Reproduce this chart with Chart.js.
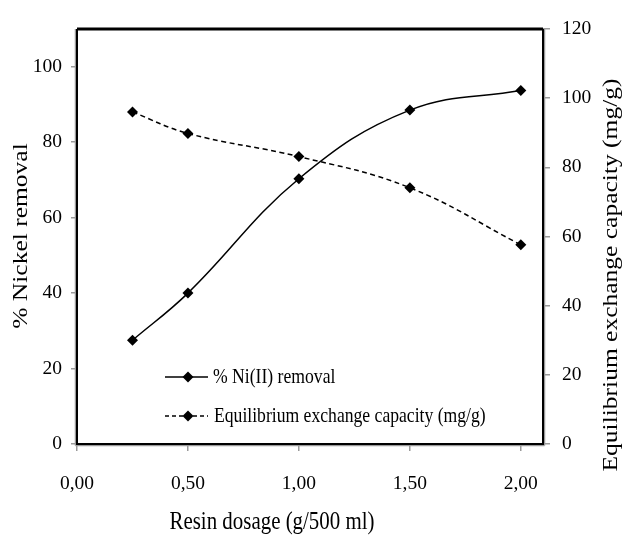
<!DOCTYPE html>
<html>
<head>
<meta charset="utf-8">
<script src="https://cdn.jsdelivr.net/npm/chart.js@4"></script>
<style>
html,body{margin:0;padding:0;background:#fff;}
#wrap{width:626px;height:535px;position:relative;}
</style>
</head>
<body>
<div id="wrap"><canvas id="c" width="626" height="535"></canvas></div>
<script>
// ---- data ----
const dosage = [0.25, 0.5, 1.0, 1.5, 2.0];
const niRemoval = [27.5, 40.0, 70.3, 88.5, 93.7];
const eqCapacity = [96.0, 89.8, 83.1, 74.1, 57.6];
const xTicks = [0, 0.5, 1.0, 1.5, 2.0];
const leftTicks = [0, 20, 40, 60, 80, 100];
const rightTicks = [0, 20, 40, 60, 80, 100, 120];
const labelNi = '% Ni(II) removal';
const labelEq = 'Equilibrium exchange capacity (mg/g)';
const titleX = 'Resin dosage (g/500 ml)';
const titleLeft = '% Nickel removal';
const titleRight = 'Equilibrium exchange capacity (mg/g)';

const FONT = '"Liberation Serif", "Times New Roman", serif';
const SX = 0.82;

function sText(ctx, txt, x, y, size, rot, align) {
  ctx.save();
  ctx.translate(x, y);
  ctx.scale(SX, 1);
  ctx.rotate(rot);
  ctx.font = size + 'px ' + FONT;
  ctx.fillStyle = '#000';
  ctx.textAlign = align;
  ctx.textBaseline = 'middle';
  ctx.fillText(txt, 0, 0);
  ctx.restore();
}

function diamond(ctx, x, y, r) {
  ctx.beginPath();
  ctx.moveTo(x, y - r);
  ctx.lineTo(x + r, y);
  ctx.lineTo(x, y + r);
  ctx.lineTo(x - r, y);
  ctx.closePath();
  ctx.fill();
}

const decor = {
  id: 'decor',
  afterDraw(chart) {
    const ctx = chart.ctx;
    const a = chart.chartArea;
    ctx.save();
    // gray axis lines
    ctx.strokeStyle = '#9a9a9a';
    ctx.lineWidth = 1.5;
    ctx.beginPath();
    ctx.moveTo(a.left - 1.5, a.top); ctx.lineTo(a.left - 1.5, a.bottom + 1.5);
    ctx.moveTo(a.left - 1.5, a.bottom + 1.5); ctx.lineTo(a.right + 1.5, a.bottom + 1.5);
    ctx.moveTo(a.right + 1.5, a.top); ctx.lineTo(a.right + 1.5, a.bottom + 1.5);
    ctx.stroke();
    // black frame
    ctx.strokeStyle = '#000';
    ctx.lineWidth = 3;
    ctx.beginPath();
    ctx.moveTo(a.left, a.top); ctx.lineTo(a.right, a.top);
    ctx.stroke();
    ctx.lineWidth = 2;
    ctx.beginPath();
    ctx.moveTo(a.left, a.top); ctx.lineTo(a.left, a.bottom);
    ctx.lineTo(a.right, a.bottom); ctx.lineTo(a.right, a.top);
    ctx.stroke();

    // legend
    ctx.fillStyle = '#000';
    ctx.lineWidth = 1.5;
    const lx0 = 165, lx1 = 208, mx = 188;
    const y1 = 377, y2 = 416;
    ctx.beginPath(); ctx.moveTo(lx0, y1); ctx.lineTo(lx1, y1); ctx.stroke();
    diamond(ctx, mx, y1, 5.5);
    ctx.setLineDash([4, 3]);
    ctx.beginPath(); ctx.moveTo(lx0, y2); ctx.lineTo(lx1, y2); ctx.stroke();
    ctx.setLineDash([]);
    diamond(ctx, mx, y2, 5.5);
    sText(ctx, labelNi, 213, y1, 21.5, 0, 'left');
    sText(ctx, labelEq, 214, y2, 21.5, 0, 'left');

    // axis titles
    sText(ctx, titleLeft, 22, 236, 25.5, -Math.PI / 2, 'center');
    sText(ctx, titleRight, 612, 275, 25.5, -Math.PI / 2, 'center');
    sText(ctx, titleX, 272, 522, 25.5, 0, 'center');
    ctx.restore();
  }
};

const tickFont = { family: FONT, size: 19.5 };

new Chart(document.getElementById('c'), {
  type: 'line',
  data: {
    datasets: [
      {
        label: labelNi,
        data: dosage.map((x, i) => ({ x: x, y: niRemoval[i] })),
        yAxisID: 'y',
        borderColor: '#000',
        backgroundColor: '#000',
        borderWidth: 1.5,
        tension: 0.4,
        pointStyle: 'rectRot',
        pointRadius: 5.5,
        pointBorderWidth: 0,
        fill: false
      },
      {
        label: labelEq,
        data: dosage.map((x, i) => ({ x: x, y: eqCapacity[i] })),
        yAxisID: 'y2',
        borderColor: '#000',
        backgroundColor: '#000',
        borderWidth: 1.5,
        borderDash: [5, 3.5],
        tension: 0.4,
        pointStyle: 'rectRot',
        pointRadius: 5.5,
        pointBorderWidth: 0,
        fill: false
      }
    ]
  },
  options: {
    responsive: false,
    animation: false,
    devicePixelRatio: 1,
    layout: { padding: { top: 29, left: 0, right: 0, bottom: 0 } },
    plugins: { legend: { display: false }, tooltip: { enabled: false } },
    scales: {
      x: {
        type: 'linear',
        min: 0, max: 2.1,
        afterBuildTicks: s => { s.ticks = xTicks.map(v => ({ value: v })); },
        afterFit: s => { s.height = 91; },
        border: { display: false },
        grid: { drawOnChartArea: false, drawTicks: true, tickLength: 7, tickColor: '#9a9a9a', lineWidth: 1.5 },
        ticks: {
          font: tickFont, color: '#000', padding: 21, maxRotation: 0,
          callback: v => v.toFixed(2).replace('.', ',')
        }
      },
      y: {
        position: 'left',
        min: 0, max: 110,
        afterBuildTicks: s => { s.ticks = leftTicks.map(v => ({ value: v })); },
        afterFit: s => { s.width = 77; },
        border: { display: false },
        grid: { drawOnChartArea: false, drawTicks: true, tickLength: 6, tickColor: '#9a9a9a', lineWidth: 1.5 },
        ticks: { font: tickFont, color: '#000', padding: 9 }
      },
      y2: {
        position: 'right',
        min: 0, max: 120,
        afterBuildTicks: s => { s.ticks = rightTicks.map(v => ({ value: v })); },
        afterFit: s => { s.width = 83; },
        border: { display: false },
        grid: { drawOnChartArea: false, drawTicks: true, tickLength: 7, tickColor: '#9a9a9a', lineWidth: 1.5 },
        ticks: { font: tickFont, color: '#000', padding: 12 }
      }
    }
  },
  plugins: [decor]
});
</script>
</body>
</html>
